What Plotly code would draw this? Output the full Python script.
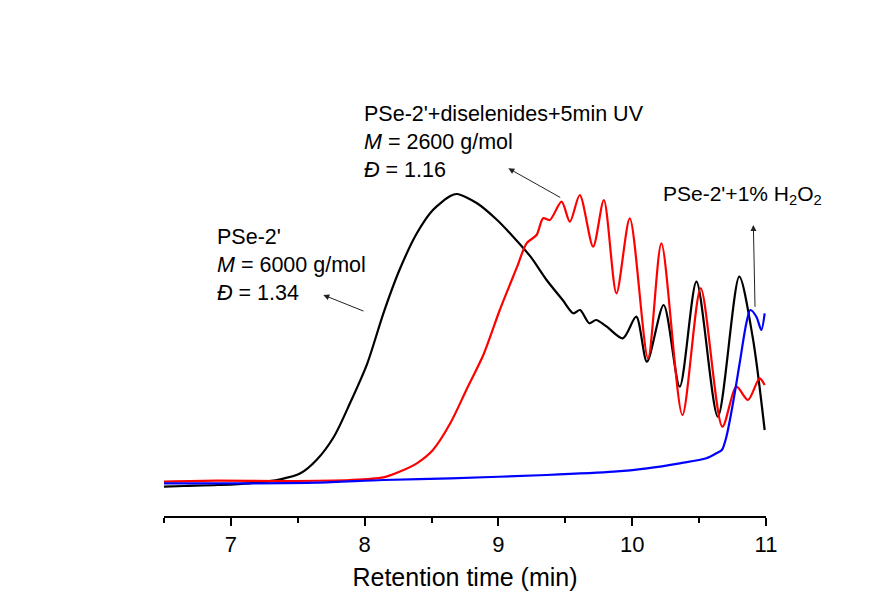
import plotly.graph_objects as go

# Retention time (min) and detector response (a.u.)
pse_x = [6.50, 6.65, 6.90, 7.14, 7.37, 7.52, 7.64, 7.77, 7.89, 8.02, 8.14, 8.26, 8.39, 8.51,
         8.64, 8.69, 8.84, 8.99, 9.11, 9.24, 9.36, 9.48, 9.56, 9.61, 9.68, 9.73, 9.81, 9.93,
         10.03, 10.11, 10.235, 10.355, 10.48, 10.64, 10.80, 10.90, 10.99]
pse_y = [29.3, 30, 31, 32.7, 36.7, 42.7, 56, 79.3, 112.7, 152.7, 202.7, 246, 282.7, 306,
         320, 322, 312.7, 296, 279.3, 259.3, 236, 216, 202.7, 206, 192.7, 196, 189.3, 177.7,
         199.3, 154.3, 211, 129.3, 234.3, 99.3, 239.3, 179.3, 86]

uv_x = [6.50, 6.90, 7.39, 7.89, 8.14, 8.26, 8.39, 8.51, 8.64, 8.76, 8.89, 9.01, 9.14, 9.21,
        9.285, 9.334, 9.384, 9.472, 9.534, 9.608, 9.708, 9.788, 9.882, 9.982, 10.118, 10.218,
        10.375, 10.512, 10.674, 10.779, 10.865, 10.952, 10.99]
uv_y = [34.3, 35.3, 35, 36, 38.7, 44.3, 52.7, 66, 92.7, 126, 162, 206, 249.3, 272.7,
        281, 297.7, 296, 314.3, 294.3, 321, 269.3, 316, 222.7, 297.7, 157.7, 272.7,
        101, 227.7, 89.3, 129.3, 116, 137.7, 131]

h2o2_x = [6.50, 7.14, 7.64, 8.14, 8.64, 9.36, 9.86, 10.11, 10.355, 10.554, 10.629, 10.67,
          10.704, 10.753, 10.803, 10.853, 10.883, 10.928, 10.965, 10.99]
h2o2_y = [32.7, 32.7, 33.3, 36, 37.7, 41, 44.3, 47.7, 52.7, 57.7, 62.7, 66,
          79.3, 112.7, 152.7, 192.7, 206, 199.3, 186, 202.7]

series_names = ["PSe-2'", "PSe-2'+diselenides+5min UV", "PSe-2'+1% H2O2"]
series_colors = ["#000000", "#ff0000", "#0000ff"]

label_texts = [
    "PSe-2'+diselenides+5min UV<br><i>M</i> = 2600 g/mol<br><i>Đ</i> = 1.16",
    "PSe-2'<br><i>M</i> = 6000 g/mol<br><i>Đ</i> = 1.34",
    "PSe-2'+1% H<sub>2</sub>O<sub>2</sub>",
]

FONT = "Liberation Sans, Arial, sans-serif"

fig = go.Figure()
for xs, ys, name, col in zip([pse_x, uv_x, h2o2_x], [pse_y, uv_y, h2o2_y], series_names, series_colors):
    fig.add_trace(go.Scatter(x=xs, y=ys, mode="lines", name=name,
                             line=dict(color=col, width=2.2, shape="spline", smoothing=0.8),
                             showlegend=False))

# text labels (paper coordinates)
fig.add_annotation(text=label_texts[0], xref="paper", yref="paper", x=0.329, y=0.755,
                   xanchor="left", yanchor="middle", align="left", showarrow=False,
                   font=dict(family=FONT, size=21.5, color="black"))
fig.add_annotation(text=label_texts[1], xref="paper", yref="paper", x=0.0855, y=0.506,
                   xanchor="left", yanchor="middle", align="left", showarrow=False,
                   font=dict(family=FONT, size=21.5, color="black"))
fig.add_annotation(text=label_texts[2], xref="paper", yref="paper", x=0.825, y=0.647,
                   xanchor="left", yanchor="middle", align="left", showarrow=False,
                   font=dict(family=FONT, size=21, color="black"))

# arrows
arrows = [(0.2646, 0.4456, 41.7, 16.7), (0.572, 0.701, 53.4, 30), (0.979, 0.5867, 1.7, 83.3)]
for hx, hy, ax, ay in arrows:
    fig.add_annotation(text="", xref="paper", yref="paper", x=hx, y=hy, ax=ax, ay=ay,
                       showarrow=True, arrowhead=2, arrowsize=1.2, arrowwidth=1,
                       arrowcolor="#222222", standoff=0)

fig.update_xaxes(range=[6.5, 11], showline=True, linewidth=2, linecolor="black",
                 ticks="outside", ticklen=8, tickwidth=2, tickcolor="black",
                 tick0=7, dtick=1, showgrid=False, zeroline=False,
                 minor=dict(ticks="outside", ticklen=5, tickwidth=2, tickcolor="black",
                            tick0=6.5, dtick=0.5, showgrid=False),
                 tickfont=dict(family=FONT, size=22, color="black"),
                 title=dict(text="Retention time (min)", standoff=12,
                            font=dict(family=FONT, size=25, color="black")))
fig.update_yaxes(range=[0, 496], visible=False, showgrid=False, zeroline=False)

fig.update_layout(width=875, height=609, margin=dict(l=164, r=109, t=20, b=93),
                  plot_bgcolor="white", paper_bgcolor="white")

fig.write_html("out.html")
